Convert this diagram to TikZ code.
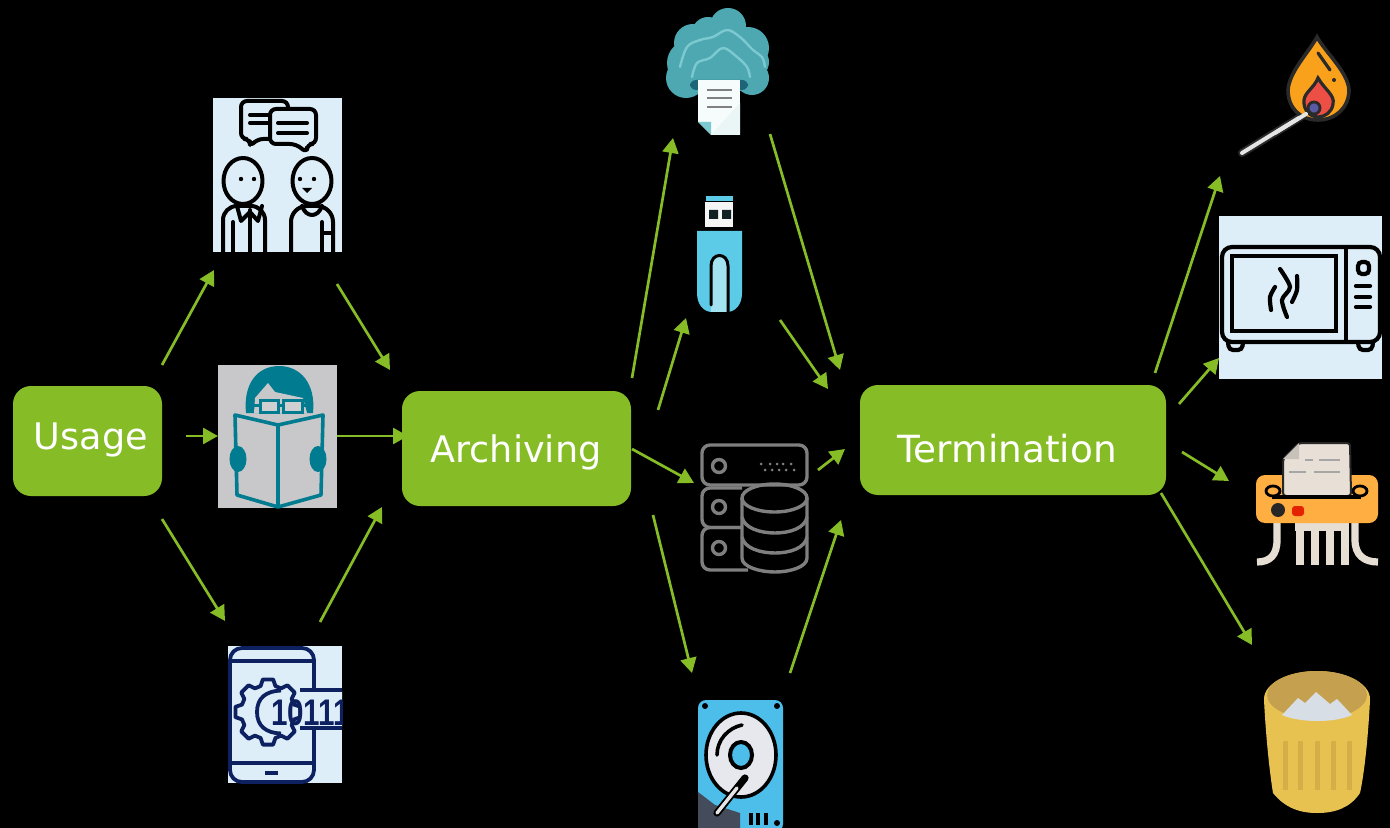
\documentclass[tikz,border=0pt]{standalone}
\usepackage{fontspec}
\usepackage{graphicx}
\setmainfont{DejaVu Sans}
\newfontfamily\digitfont{Liberation Sans}
\usetikzlibrary{arrows.meta}
\definecolor{flowgreen}{HTML}{86BC25}
\definecolor{paleblue}{HTML}{DEEEF9}
\definecolor{readgray}{HTML}{C8C8CA}
\definecolor{readteal}{HTML}{007B8F}
\definecolor{navy}{HTML}{0D2060}
\definecolor{cloudteal}{HTML}{4EA8B2}
\definecolor{cloudlight}{HTML}{7CCAD0}
\definecolor{clouddark}{HTML}{1D6478}
\definecolor{usbblue}{HTML}{5CCBE8}
\definecolor{usblight}{HTML}{A3E3F0}
\definecolor{dbgray}{HTML}{7F7F7F}
\definecolor{hddblue}{HTML}{4DBDEA}
\definecolor{slate}{HTML}{444C5C}
\definecolor{diskwhite}{HTML}{E6E8EE}
\definecolor{sootdark}{HTML}{2A2A2A}
\definecolor{flameorange}{HTML}{F9A11B}
\definecolor{flamered}{HTML}{EE4F44}
\definecolor{shredorange}{HTML}{FFAE42}
\definecolor{cream}{HTML}{E6DDD3}
\definecolor{binrim}{HTML}{E8C251}
\definecolor{bininner}{HTML}{C4A04F}
\definecolor{binstripe}{HTML}{D6AE48}
\definecolor{binpaper}{HTML}{D8DEE6}
\tikzset{
  flow/.style={draw=flowgreen,line width=1.35pt,-{Triangle[length=7.5pt,width=8pt]}},
  flowbox/.style={fill=flowgreen,rounded corners=9pt,inner sep=0pt},
  boxlabel/.style={text=white,font=\fontsize{18.3}{22}\selectfont,anchor=base,inner sep=0pt},
  iconpanel/.style={inner sep=0pt,outer sep=0pt},
  ink/.style={draw=black,line width=2pt,line cap=round,line join=round},
  navyline/.style={draw=navy,line width=1.9pt,line join=round},
  dbline/.style={draw=dbgray,line width=1.7pt},
  mwline/.style={draw=black,line width=2.1pt,line cap=round},
}
\begin{document}
\begin{tikzpicture}[x=0.5pt,y=-0.5pt]
\useasboundingbox (0,0) rectangle (1390,828);
\fill[black] (0,0) rectangle (1390,828);

% ---- main boxes
\node[flowbox,minimum width=74.5pt,minimum height=55pt] (usage) at (87.5,441) {};
\node[flowbox,minimum width=114.5pt,minimum height=57.5pt] (archiving) at (516.5,448.5) {};
\node[flowbox,minimum width=153pt,minimum height=55pt] (termination) at (1013,440) {};
\node[boxlabel] (usagetext) at (91,449) {Usage};
\node[boxlabel] (archivingtext) at (516,462) {Archiving};
\node[boxlabel,font=\fontsize{18.7}{22}\selectfont] (terminationtext) at (1007,462) {Termination};

% ---- people talking
\node[iconpanel,fill=paleblue,minimum width=64.5pt,minimum height=77pt] (people) at (277.5,175) {};
\begin{scope}
\clip (213,98) rectangle (342,252);
\draw[ink,fill=paleblue,rounded corners=3pt] (241,101) -- (288,101) -- (288,139) -- (257,139) -- (250,147) -- (250,139) -- (241,139) -- cycle;
\draw[ink,fill=paleblue,rounded corners=3pt] (270,109) -- (316,109) -- (316,144) -- (307,144) -- (307,153) -- (296,144) -- (270,144) -- cycle;
\draw[ink] (278,123) -- (307,123) (278,133) -- (307,133) (250,115) -- (268,115) (250,123) -- (268,123);
\draw[ink] (243,181) ellipse (19.5 and 23);
\draw[ink] (312,181) ellipse (19.5 and 23);
\fill (241,179) circle (2.2) (254,179) circle (2.2) (300,179) circle (2.2) (314,179) circle (2.2);
\fill (302,188) -- (312,188) -- (307,193) -- cycle;
\draw[ink,rounded corners=7pt] (223,256) -- (223,206) -- (265,206) -- (265,256);
\draw[ink] (233,222) -- (233,256) (250,210) -- (250,256);
\draw[ink] (237,206) -- (241,221) -- (250,212) -- (258,221) -- (262,206);
\draw[ink,rounded corners=8pt] (291,256) -- (291,206) -- (333,206) -- (333,256);
\draw[ink] (302,206) .. controls (306,218) and (318,218) .. (322,206);
\draw[ink] (322,222) -- (322,256) (322,233) -- (333,233);
\end{scope}

% ---- reader
\node[iconpanel,fill=readgray,minimum width=59.5pt,minimum height=71.5pt] (reader) at (277.5,436.5) {};
\fill[readteal] (246,413) .. controls (243,383) and (258,366) .. (279,366) .. controls (300,366) and (316,383) .. (313,413) -- cycle;
\fill[readgray] (254,413) -- (255,398) -- (268,383) -- (275,392) -- (303,398) -- (307,413) -- cycle;
\draw[draw=readteal,line width=1.5pt,fill=readgray!85!white] (260,400) rectangle (278,412);
\draw[draw=readteal,line width=1.5pt,fill=readgray!85!white] (283,400) rectangle (302,412);
\draw[draw=readteal,line width=1.5pt] (253,405) -- (260,405) (278,405) -- (283,405) (302,405) -- (308,405);
\draw[draw=readteal,line width=1.8pt,fill=readgray,line join=round] (235,415) -- (278,425) -- (323,415) -- (321,495) -- (278,507) -- (237,495) -- cycle;
\draw[draw=readteal,line width=1.8pt] (278,425) -- (278,507);
\fill[readteal] (238,459) ellipse (8.5 and 13) (318,459) ellipse (8.5 and 13);

% ---- phone with binary key
\node[iconpanel,fill=paleblue,minimum width=57pt,minimum height=68.5pt] (phone) at (285,714.5) {};
\begin{scope}
\clip (228,646) rectangle (342,783);
\draw[navyline,rounded corners=6pt] (230,648) rectangle (314,782);
\draw[navyline] (230,661) -- (314,661) (230,763) -- (314,763);
\draw[navy,line width=2.1pt] (265,773) -- (278,773);
\draw[navyline,fill=paleblue] ([shift={(268,712)}]-16:27)
  \foreach \a in {0,45,...,315} { -- ([shift={(268,712)}]\a-16:27) -- ([shift={(268,712)}]\a-9:33) -- ([shift={(268,712)}]\a+9:33) -- ([shift={(268,712)}]\a+16:27) } -- cycle;
\fill[paleblue] (300,691) rectangle (344,727);
\draw[navyline] (300,690) -- (342,690) (300,728) -- (342,728);
\draw[navyline] (281,690.5) .. controls (266,691) and (257,698) .. (257,712) .. controls (257,726) and (266,733) .. (281,733.5);
\node[iconpanel,text=navy,anchor=base west] (binary) at (271,725) {\digitfont\bfseries\fontsize{18.5}{20}\selectfont\scalebox{0.8}[1]{10111}};
\end{scope}

% ---- cloud document
\fill[cloudteal] (728,26) circle (18) (708,33) circle (16) (693,43) circle (19) (690,63) circle (23) (686,78) circle (20) (752,78) circle (17) (748,48) circle (21) (752,62) circle (17) (718,60) circle (38);
\draw[cloudlight,line width=1.2pt,line cap=round] plot[smooth,tension=.6] coordinates {(680,67) (687,47) (700,40) (713,37) (727,30) (740,37) (753,50) (762,57) (765,67)};
\draw[cloudlight,line width=1.2pt,line cap=round] plot[smooth,tension=.6] coordinates {(692,77) (697,63) (710,58) (723,48) (737,57) (747,67) (750,77)};
\fill[clouddark,rounded corners=3pt] (690,80) rectangle (748,90);
\node[iconpanel,fill=white!95!cloudteal,minimum width=21pt,minimum height=27.5pt] (clouddoc) at (719,107.5) {};
\fill[black] (698,122) -- (711,135) -- (698,135) -- cycle;
\fill[cloudlight] (698,122) -- (711,135) -- (711,122) -- cycle;
\fill[white!88!cloudteal] (711,135) -- (740,103) -- (740,135) -- cycle;
\draw[gray,line width=1.2pt] (707,90) -- (732,90) (707,98) -- (732,98) (707,107) -- (732,107);

% ---- USB stick
\fill[usbblue] (706,196) rectangle (733,201);
\node[iconpanel,fill=white!96!black,minimum width=14pt,minimum height=12.5pt] (usbplug) at (719,214.5) {};
\fill[black!80!cloudteal] (709,210) rectangle (718,219) (722,210) rectangle (731,219);
\fill[usbblue] (697,231) -- (742,231) -- (742,293) .. controls (742,305) and (735,312) .. (727,312) -- (712,312) .. controls (704,312) and (697,305) .. (697,293) -- cycle;
\fill[usblight] (711,312) -- (711,266) .. controls (711,252) and (728,252) .. (728,266) -- (728,312) -- cycle;
\draw[black,line width=1.5pt,line cap=round] (711,305) -- (711,266) .. controls (711,252) and (728,252) .. (728,266) -- (728,312);

% ---- database server
\draw[dbline,rounded corners=4pt] (702,445) rectangle (807,485);
\draw[dbline,rounded corners=4pt] (742,488) -- (702,488) -- (702,527.5) -- (742,527.5);
\draw[dbline,rounded corners=4pt] (742,527.5) -- (702,527.5) -- (702,570) -- (748,570);
\draw[dbline] (719,466) circle (6.5) (719,507) circle (6.5) (719,548) circle (6.5);
\foreach \x in {761,770,777,783,791} \fill[dbgray] (\x,464) circle (1.5);
\foreach \x in {765,772,779,786,794} \fill[dbgray] (\x,470) circle (1.5);
\fill[black] (742,498) -- (742,558) .. controls (742,567) and (760,572) .. (775,572) .. controls (790,572) and (807,567) .. (807,558) -- (807,498) -- cycle;
\draw[dbline] (742,498) -- (742,558) .. controls (742,567) and (760,572) .. (775,572) .. controls (790,572) and (807,567) .. (807,558) -- (807,498);
\draw[dbline] (774.5,498) ellipse (32.5 and 14);
\draw[dbline] (742,517) .. controls (744,528) and (760,533) .. (775,533) .. controls (790,533) and (805,528) .. (807,517);
\draw[dbline] (742,537) .. controls (744,548) and (760,553) .. (775,553) .. controls (790,553) and (805,548) .. (807,537);

% ---- hard disk
\fill[hddblue,rounded corners=4pt] (698,700) -- (783,700) -- (783,832) -- (698,832) -- cycle;
\fill[black] (705,706) circle (3) (777,706) circle (3) (777,823) circle (3);
\draw[draw=black,line width=1.8pt,fill=diskwhite] (741,755) ellipse (35 and 42);
\draw[draw=black,line width=2pt,fill=hddblue] (741,755) ellipse (11 and 13);
\draw[black,line width=1.8pt,line cap=round] (717,755) .. controls (717,740) and (728,728) .. (742,725);
\fill[slate] (698,792) -- (715,805) -- (740,813) -- (740,828) -- (698,828) -- cycle;
\draw[black,line width=3.6pt,line cap=round] (717,813) -- (745,778);
\draw[white!90!black,line width=1.7pt,line cap=round] (717,813) -- (737,788);
\foreach \x in {751,758,766} \draw[black,line width=1.7pt] (\x,813) -- (\x,825);

% ---- match
\draw[sootdark,line width=4pt,line cap=round] (1242,153) -- (1307,113);
\draw[white!90!black,line width=2pt,line cap=round] (1242,153) -- (1307,113);
\draw[draw=sootdark,line width=1.8pt,fill=flameorange] (1317,37) .. controls (1325,52) and (1348,72) .. (1349,90) .. controls (1349,108) and (1335,120) .. (1318,120) .. controls (1300,120) and (1288,108) .. (1288,90) .. controls (1289,72) and (1309,52) .. (1317,37) -- cycle;
\draw[draw=sootdark,line width=1.6pt,fill=flamered] (1318,78) .. controls (1325,90) and (1335,95) .. (1333,104) .. controls (1332,112) and (1325,117) .. (1318,117) .. controls (1310,117) and (1303,110) .. (1304,100) .. controls (1305,92) and (1314,88) .. (1318,78) -- cycle;
\draw[sootdark,line width=1.6pt,line cap=round] (1318,53) -- (1330,70);
\fill[sootdark] (1334,80) circle (2);
\draw[white!90!black,line width=2pt,line cap=round] (1275,133) -- (1306,114);
\draw[draw=sootdark,line width=1.4pt,fill=gray!70!blue] (1314,108) circle (6);

% ---- microwave
\node[iconpanel,fill=paleblue,minimum width=81.5pt,minimum height=81.5pt] (microwave) at (1300.5,297.5) {};
\draw[mwline,rounded corners=5pt] (1222,342) -- (1222,247) -- (1380,247) -- (1380,342) -- cycle;
\draw[mwline] (1346,247) -- (1346,342);
\draw[mwline] (1232,256) rectangle (1336,331);
\draw[mwline,rounded corners=2pt] (1228,342) -- (1229,350) -- (1242,350) -- (1243,342) (1358,342) -- (1359,350) -- (1372,350) -- (1373,342);
\draw[mwline,rounded corners=2pt] (1358,262) rectangle (1369,274);
\draw[mwline] (1356,286) -- (1370,286) (1356,297) -- (1370,297) (1356,307) -- (1370,307);
\draw[mwline] plot[smooth] coordinates {(1280,269) (1290,287) (1282,300) (1287,317)};
\draw[mwline] plot[smooth] coordinates {(1271,310) (1270,297) (1275,287)};
\draw[mwline] plot[smooth] coordinates {(1297,276) (1297,290) (1292,302)};

% ---- shredder
\foreach \x in {1300,1315,1330,1345} \draw[cream,line width=3.6pt] (\x,520) -- (\x,565);
\draw[cream,line width=3.6pt] (1277,520) -- (1277,540) .. controls (1277,555) and (1270,562) .. (1257,562);
\draw[cream,line width=3.6pt] (1355,520) -- (1355,540) .. controls (1355,555) and (1364,562) .. (1378,562);
\fill[cream] (1295,522) rectangle (1349,531);
\draw[black,line width=.7pt] (1307.5,532) -- (1307.5,568) (1322.5,532) -- (1322.5,568) (1337.5,532) -- (1337.5,568);
\fill[shredorange,rounded corners=4.5pt] (1256,475) rectangle (1378,523);
\draw[black,line width=1.4pt] (1273,491) ellipse (7 and 5) (1360,491) ellipse (7 and 5);
\draw[draw=black!85,line width=1pt,fill=cream!90!white,rounded corners=1.5pt] (1299,443) -- (1350,443) -- (1351,496) -- (1283,496) -- (1283,459) -- cycle;
\fill[cream!70!gray] (1299,443) -- (1299,459) -- (1283,459) -- cycle;
\draw[gray!70,line width=1.3pt] (1305,460) -- (1313,460) (1319,460) -- (1340,460) (1289,472) -- (1306,472) (1314,472) -- (1340,472);
\draw[black,line width=1.6pt] (1272,497) -- (1361,497);
\fill[black!85] (1278,510) circle (7);
\fill[red!70!orange!90!black,rounded corners=1.5pt] (1292,506) rectangle (1304,516);

% ---- waste bin
\fill[binrim] (1264,700) .. controls (1266,740) and (1270,775) .. (1273,793) .. controls (1285,808) and (1300,813) .. (1317,813) .. controls (1335,813) and (1350,808) .. (1360,793) .. controls (1364,775) and (1368,740) .. (1370,700) -- cycle;
\foreach \x in {1285,1300,1317,1333,1349} \draw[binstripe,line width=2.5pt] (\x,741) -- (\x,790);
\fill[binrim] (1317,699) ellipse (53 and 28);
\fill[bininner] (1317,695) ellipse (50 and 24);
\fill[binpaper] (1282,715) -- (1298,698) -- (1305,703) -- (1316,692) -- (1330,704) -- (1337,699) -- (1352,715) .. controls (1335,723) and (1300,723) .. (1282,715) -- cycle;

% ---- connectors
\foreach \n/\xa/\ya/\xb/\yb in {
  a/162/365/214/270, b/337/284/390/370, c/186/436/218/436, d/337/436/408/436,
  e/162/519/225/621, f/320/622/382/507, g/632/378/673/138, h/658/410/686/318,
  i/632/449/694/483, j/653/515/692/673, k/770/134/840/370, l/780/320/828/389,
  m/818/470/845/449, n/790/673/841/520, o/1155/373/1220/176, p/1179/404/1219/358,
  q/1182/452/1229/481, r/1161/493/1252/645}{
  \coordinate (\n from) at (\xa,\ya);
  \coordinate (\n to) at (\xb,\yb);
  \draw[flow] (\n from) -- (\n to);
}
\end{tikzpicture}
\end{document}
